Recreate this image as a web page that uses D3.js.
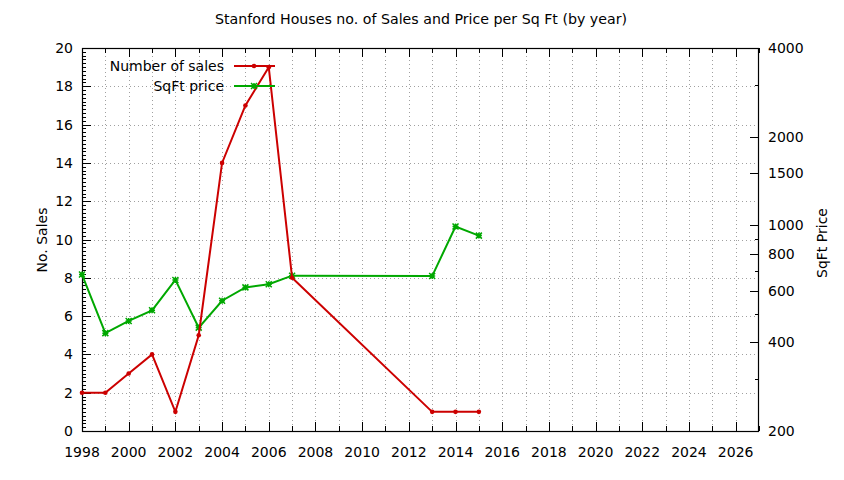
<!DOCTYPE html>
<html><head><meta charset="utf-8">
<script src="https://cdn.jsdelivr.net/npm/d3@7"></script>
<style>
body{margin:0;background:#fff;}
text{font-family:"DejaVu Sans",Verdana,sans-serif;fill:#000;}
</style></head>
<body><svg id="c" width="844" height="480"></svg>
<script>
const years = [1998,1999,2000,2001,2002,2003,2004,2005,2006,2007,2013,2014,2015];
const salesCount = [2,2,3,4,1,5,14,17,19,8,1,1,1];
const sqftPrice = [680,430,473,514,652,449,554,615,630,674,672,990,922];
const xTickLabels = d3.range(1998,2027,2);
const yLeftTicks = d3.range(0,21,2);
const yRightTicks = [200,400,600,800,1000,1500,2000,4000];
const yRightMinor = [300,500,700,900,3000];
const seriesNames = ["Number of sales","SqFt price"];
const seriesColors = ["#cc0000","#00a800"];

const svg = d3.select("#c");
const L=82,R=759,T=48,B=431;
const x = d3.scaleLinear().domain([1998,2027]).range([L,R]);
const yL = d3.scaleLinear().domain([0,20]).range([B,T]);
const yR = d3.scaleLog().domain([200,4000]).range([B,T]);

// grid
const g = svg.append("g").attr("stroke","#a0a0a0").attr("stroke-width",1).attr("stroke-dasharray","1,3");
d3.range(1999,2027).forEach(v=>g.append("line").attr("x1",Math.round(x(v))+0.5).attr("x2",Math.round(x(v))+0.5).attr("y1",T).attr("y2",B));
yLeftTicks.filter(v=>v>0&&v<20).forEach(v=>g.append("line").attr("x1",L).attr("x2",R).attr("y1",Math.round(yL(v))+0.5).attr("y2",Math.round(yL(v))+0.5));

// ticks
const tk = svg.append("g").attr("stroke","#000").attr("stroke-width",1);
d3.range(1998,2028).forEach(v=>{
  const len = (v%2===0)?9:5; const xx=Math.round(x(v))+0.5;
  tk.append("line").attr("x1",xx).attr("x2",xx).attr("y1",B).attr("y2",B-len);
  tk.append("line").attr("x1",xx).attr("x2",xx).attr("y1",T).attr("y2",T+len);
});
d3.range(0,20.01,0.2).forEach(v=>{
  const major = Math.abs(v/2-Math.round(v/2))<1e-6;
  const len = major?9:4; const yy=Math.round(yL(v))+0.5;
  tk.append("line").attr("x1",L).attr("x2",L+len).attr("y1",yy).attr("y2",yy);
});
yRightTicks.forEach(v=>{const yy=Math.round(yR(v))+0.5;tk.append("line").attr("x1",R).attr("x2",R-9).attr("y1",yy).attr("y2",yy);});
yRightMinor.forEach(v=>{const yy=Math.round(yR(v))+0.5;tk.append("line").attr("x1",R).attr("x2",R-4).attr("y1",yy).attr("y2",yy);});

// border
svg.append("rect").attr("x",L+0.5).attr("y",T+0.5).attr("width",R-L-1).attr("height",B-T).attr("fill","none").attr("stroke","#000").attr("stroke-width",1.2);

// tick labels
const fs=14;
xTickLabels.forEach(v=>svg.append("text").attr("x",x(v)).attr("y",B+26).attr("text-anchor","middle").attr("font-size",fs).text(v));
yLeftTicks.forEach(v=>svg.append("text").attr("x",L-9).attr("y",yL(v)+5).attr("text-anchor","end").attr("font-size",fs).text(v));
yRightTicks.forEach(v=>svg.append("text").attr("x",R+9).attr("y",yR(v)+5).attr("text-anchor","start").attr("font-size",fs).text(v));

// titles
svg.append("text").attr("x",421).attr("y",24).attr("text-anchor","middle").attr("font-size",14.2).text("Stanford Houses no. of Sales and Price per Sq Ft (by year)");
svg.append("text").attr("transform","translate(47,240) rotate(-90)").attr("text-anchor","middle").attr("font-size",14).text("No. Sales");
svg.append("text").attr("transform","translate(827,243) rotate(-90)").attr("text-anchor","middle").attr("font-size",14).text("SqFt Price");

// series
const salesData = years.map((y,i)=>({y, v:salesCount[i]}));
const priceData = years.map((y,i)=>({y, v:sqftPrice[i]}));
const lineS = d3.line().x(d=>x(d.y)).y(d=>yL(d.v));
const lineP = d3.line().x(d=>x(d.y)).y(d=>yR(d.v));

function star(gg,cx,cy,col){
  const s=3;
  gg.append("path").attr("d",`M${cx-s},${cy}H${cx+s}M${cx},${cy-s}V${cy+s}M${cx-s},${cy-s}L${cx+s},${cy+s}M${cx-s},${cy+s}L${cx+s},${cy-s}`).attr("stroke",col).attr("stroke-width",1.5).attr("fill","none");
}
function dot(gg,cx,cy,col){ gg.append("circle").attr("cx",cx).attr("cy",cy).attr("r",2.3).attr("fill",col); }

const gp = svg.append("g");
gp.append("path").datum(priceData).attr("d",lineP).attr("fill","none").attr("stroke",seriesColors[1]).attr("stroke-width",2);
priceData.forEach(d=>star(gp,x(d.y),yR(d.v),seriesColors[1]));
const gs = svg.append("g");
gs.append("path").datum(salesData).attr("d",lineS).attr("fill","none").attr("stroke",seriesColors[0]).attr("stroke-width",2);
salesData.forEach(d=>dot(gs,x(d.y),yL(d.v),seriesColors[0]));

// legend
const lg = svg.append("g");
seriesNames.forEach((n,i)=>{
  const yy = 66+i*20;
  lg.append("text").attr("x",224).attr("y",yy+5).attr("text-anchor","end").attr("font-size",14).text(n);
  lg.append("line").attr("x1",234).attr("x2",275).attr("y1",yy).attr("y2",yy).attr("stroke",seriesColors[i]).attr("stroke-width",2);
  if(i===0) dot(lg,254,yy,seriesColors[i]); else star(lg,254,yy,seriesColors[i]);
});
</script></body></html>
